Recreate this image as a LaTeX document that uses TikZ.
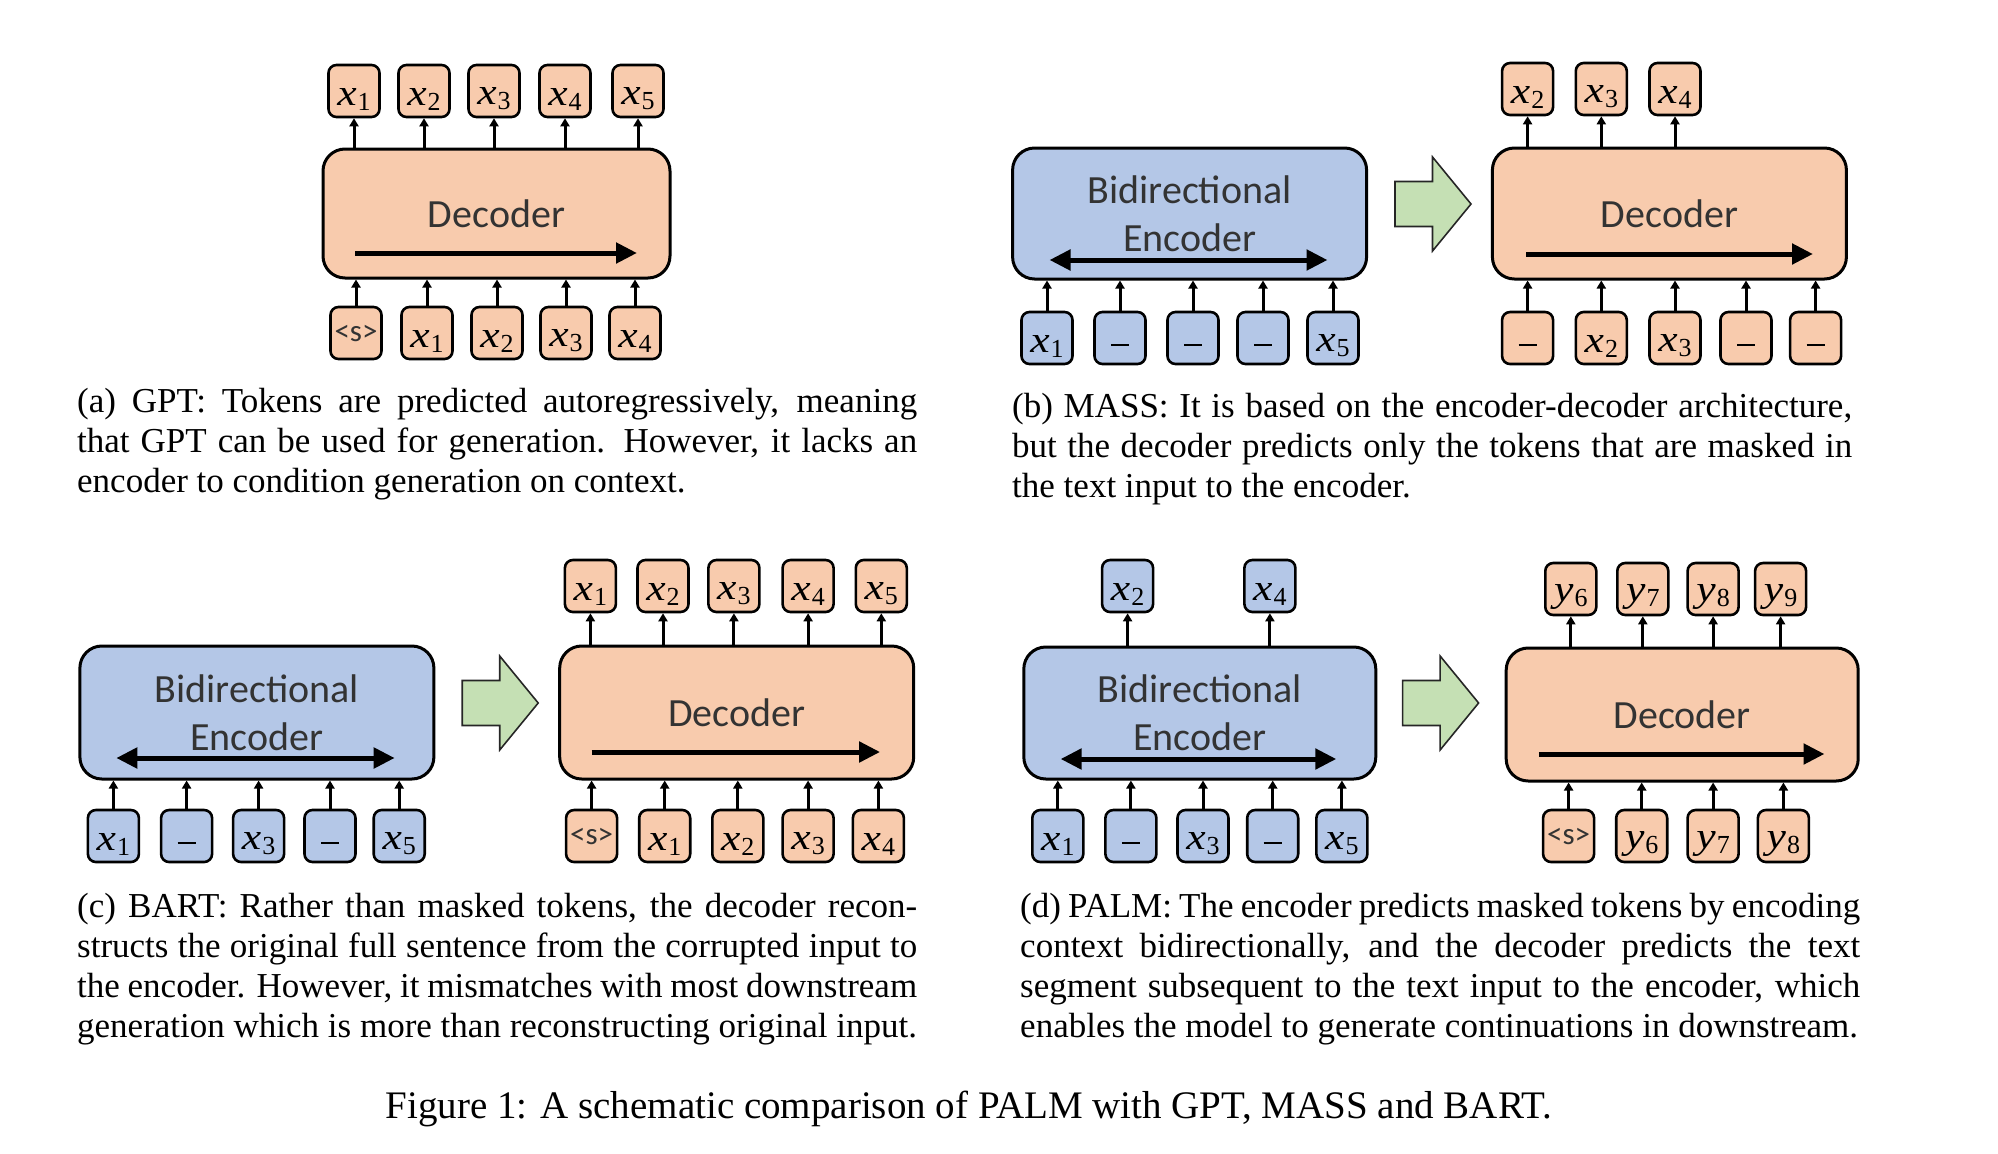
\documentclass[tikz,border=0pt]{standalone}
\usepackage{graphicx}
\usepackage{fontspec}
\setmainfont{Liberation Serif}
\newfontfamily\calfont{Carlito}
\usetikzlibrary{arrows.meta,calc}
\definecolor{orF}{HTML}{F8CBAD}
\definecolor{blF}{HTML}{B4C7E7}
\definecolor{grF}{HTML}{C5E0B4}
\newcommand\blk{\rule[-10pt]{0pt}{20pt}\rule[-8pt]{18pt}{2pt}}
\newcommand\sos{{\calfont\fontsize{31}{31}\selectfont\color{black!80}<s>}}
\newcommand\tk[2]{\rule[-5pt]{0pt}{38pt}\scalebox{1.18}[1]{\fontsize{37}{37}\selectfont\itshape #1}\kern1pt\raisebox{-5pt}{\fontsize{26}{26}\selectfont #2}}
\begin{document}
\hyphenpenalty=10000
\exhyphenpenalty=10000
\tolerance=10000
\begin{tikzpicture}[x=1pt,y=-1pt,
  tok/.style={draw=black, line width=2.6pt, rounded corners=8pt, minimum width=51pt, minimum height=52pt, inner sep=0pt},
  otok/.style={tok, fill=orF},
  btok/.style={tok, fill=blF},
  bigbox/.style={draw=black, line width=3pt, rounded corners=22pt, inner sep=0pt, align=center, text=black!80, font=\calfont\fontsize{40}{48}\selectfont},
  decbox/.style={bigbox, fill=orF},
  encbox/.style={bigbox, fill=blF},
  arr/.style={line width=3pt, -{Triangle[length=8pt,width=9pt]}},
  flow/.style={line width=5pt, -{Triangle[length=21pt,width=20pt]}},
  biflow/.style={line width=5pt, {Triangle[length=21pt,width=20pt]}-{Triangle[length=21pt,width=20pt]}},
  garrow/.pic={\draw[draw=black!85, line width=1.6pt, fill=grF, line join=miter] (0,-22.5) -- (37.5,-22.5) -- (37.5,-47) -- (76,0) -- (37.5,47) -- (37.5,22.5) -- (0,22.5) -- cycle;},
  captxt/.style={anchor=north west, inner sep=0pt, align=justify, text width=840pt, font=\fontsize{35}{40}\selectfont}
]
\useasboundingbox (0,0) rectangle (1998,1154);

% ---------------- (a) GPT ----------------
\node[decbox, minimum width=347pt, minimum height=129pt] (aD) at (496.5,213.5) {Decoder};
\foreach \n/\x/\t in {1/354/\tk{x}{1}, 2/424/\tk{x}{2}, 3/494/\tk{x}{3}, 4/565/\tk{x}{4}, 5/638/\tk{x}{5}}{
  \node[otok] (aT\n) at (\x,91) {\t};
  \draw[arr] (aT\n.south |- aD.north) -- (aT\n.south);
}
\foreach \n/\x/\t in {1/356/\sos, 2/427/\tk{x}{1}, 3/497/\tk{x}{2}, 4/566/\tk{x}{3}, 5/635/\tk{x}{4}}{
  \node[otok] (aB\n) at (\x,333) {\t};
  \draw[arr] (aB\n.north) -- (aB\n.north |- aD.south);
}
\coordinate (aL) at (355,253); \coordinate (aR) at (637,253);
\draw[flow] (aL) -- (aR);
\node[captxt] (aC) at (77,388) {(a) GPT: Tokens are predicted autoregressively, meaning\linebreak that GPT can be used for generation. However, it lacks an\linebreak encoder to condition generation on context.};

% ---------------- (b) MASS ----------------
\node[encbox, minimum width=354pt, minimum height=131pt] (bE) at (1189.6,213.5) {Bidirectional\\Encoder};
\foreach \n/\x/\t in {1/1047/\tk{x}{1}, 2/1120/\blk, 3/1193/\blk, 4/1263/\blk, 5/1333/\tk{x}{5}}{
  \node[btok] (bB\n) at (\x,338) {\t};
  \draw[arr] (bB\n.north) -- (bB\n.north |- bE.south);
}
\coordinate (bEL) at (1049.5,260); \coordinate (bER) at (1327.5,260);
\draw[biflow] (bEL) -- (bER);
\pic at (1395,204) {garrow};
\node[decbox, minimum width=354pt, minimum height=131pt] (bD) at (1669.4,213.5) {Decoder};
\foreach \n/\x/\t in {1/1527.6/\tk{x}{2}, 2/1601.3/\tk{x}{3}, 3/1675/\tk{x}{4}}{
  \node[otok] (bT\n) at (\x,89) {\t};
  \draw[arr] (bT\n.south |- bD.north) -- (bT\n.south);
}
\foreach \n/\x/\t in {1/1527.6/\blk, 2/1601.3/\tk{x}{2}, 3/1675/\tk{x}{3}, 4/1746/\blk, 5/1815.6/\blk}{
  \node[otok] (bB\n) at (\x,338) {\t};
  \draw[arr] (bB\n.north) -- (bB\n.north |- bD.south);
}
\coordinate (bDL) at (1526,254); \coordinate (bDR) at (1813,254);
\draw[flow] (bDL) -- (bDR);
\node[captxt] (bC) at (1012,393) {(b) MASS: It is based on the encoder-decoder architecture,\linebreak but the decoder predicts only the tokens that are masked in\linebreak the text input to the encoder.};

% ---------------- (c) BART ----------------
\node[encbox, minimum width=354pt, minimum height=133pt] (cE) at (256.9,712.5) {Bidirectional\\Encoder};
\foreach \n/\x/\t in {1/113.4/\tk{x}{1}, 2/186.6/\blk, 3/258.6/\tk{x}{3}, 4/330/\blk, 5/399.2/\tk{x}{5}}{
  \node[btok] (cB\n) at (\x,836) {\t};
  \draw[arr] (cB\n.north) -- (cB\n.north |- cE.south);
}
\coordinate (cEL) at (116.3,758); \coordinate (cER) at (394.7,758);
\draw[biflow] (cEL) -- (cER);
\pic at (462.2,703) {garrow};
\node[decbox, minimum width=354pt, minimum height=133pt] (cD) at (736.7,712.5) {Decoder};
\foreach \n/\x/\t in {1/590.4/\tk{x}{1}, 2/663/\tk{x}{2}, 3/733.9/\tk{x}{3}, 4/808.1/\tk{x}{4}, 5/881.3/\tk{x}{5}}{
  \node[otok] (cT\n) at (\x,586) {\t};
  \draw[arr] (cT\n.south |- cD.north) -- (cT\n.south);
}
\foreach \n/\x/\t in {1/591.6/\sos, 2/664.7/\tk{x}{1}, 3/737.8/\tk{x}{2}, 4/808.1/\tk{x}{3}, 5/878.4/\tk{x}{4}}{
  \node[otok] (cB\n) at (\x,836) {\t};
  \draw[arr] (cB\n.north) -- (cB\n.north |- cD.south);
}
\coordinate (cDL) at (591.6,752); \coordinate (cDR) at (880.1,752);
\draw[flow] (cDL) -- (cDR);
\node[captxt] (cC) at (77,893) {(c) BART: Rather than masked tokens, the decoder recon-\linebreak structs the original full sentence from the corrupted input to\linebreak the encoder. However, it mismatches with most downstream\linebreak generation which is more than reconstructing original input.};

% ---------------- (d) PALM ----------------
\node[encbox, minimum width=352pt, minimum height=132pt] (dE) at (1199.8,713) {Bidirectional\\Encoder};
\foreach \n/\x/\t in {1/1127.6/\tk{x}{2}, 2/1269.9/\tk{x}{4}}{
  \node[btok] (dT\n) at (\x,586) {\t};
  \draw[arr] (dT\n.south |- dE.north) -- (dT\n.south);
}
\foreach \n/\x/\t in {1/1057.8/\tk{x}{1}, 2/1130.9/\blk, 3/1203/\tk{x}{3}, 4/1272.7/\blk, 5/1341.9/\tk{x}{5}}{
  \node[btok] (dB\n) at (\x,836) {\t};
  \draw[arr] (dB\n.north) -- (dB\n.north |- dE.south);
}
\coordinate (dEL) at (1060.6,759); \coordinate (dER) at (1336.3,759);
\draw[biflow] (dEL) -- (dER);
\pic at (1402.6,703) {garrow};
\node[decbox, minimum width=352pt, minimum height=133pt] (dD) at (1682.2,714.5) {Decoder};
\foreach \n/\x/\t in {1/1570.8/\tk{y}{6}, 2/1642.8/\tk{y}{7}, 3/1713.1/\tk{y}{8}, 4/1780.6/\tk{y}{9}}{
  \node[otok] (dT\n) at (\x,589) {\t};
  \draw[arr] (dT\n.south |- dD.north) -- (dT\n.south);
}
\foreach \n/\x/\t in {1/1568.6/\sos, 2/1641.7/\tk{y}{6}, 3/1713.1/\tk{y}{7}, 4/1783.4/\tk{y}{8}}{
  \node[otok] (dB\n) at (\x,836) {\t};
  \draw[arr] (dB\n.north) -- (dB\n.north |- dD.south);
}
\coordinate (dDL) at (1538.8,754); \coordinate (dDR) at (1824.5,754);
\draw[flow] (dDL) -- (dDR);
\node[captxt] (dC) at (1020,893) {(d) PALM: The encoder predicts masked tokens by encoding\linebreak context bidirectionally, and the decoder predicts the text\linebreak segment subsequent to the text input to the encoder, which\linebreak enables the model to generate continuations in downstream.};

% ---------------- figure caption ----------------
\node[inner sep=0pt, font=\fontsize{39}{44}\selectfont] (fig) at (969,1109) {Figure 1: A schematic comparison of PALM with GPT, MASS and BART.};
\end{tikzpicture}
\end{document}
